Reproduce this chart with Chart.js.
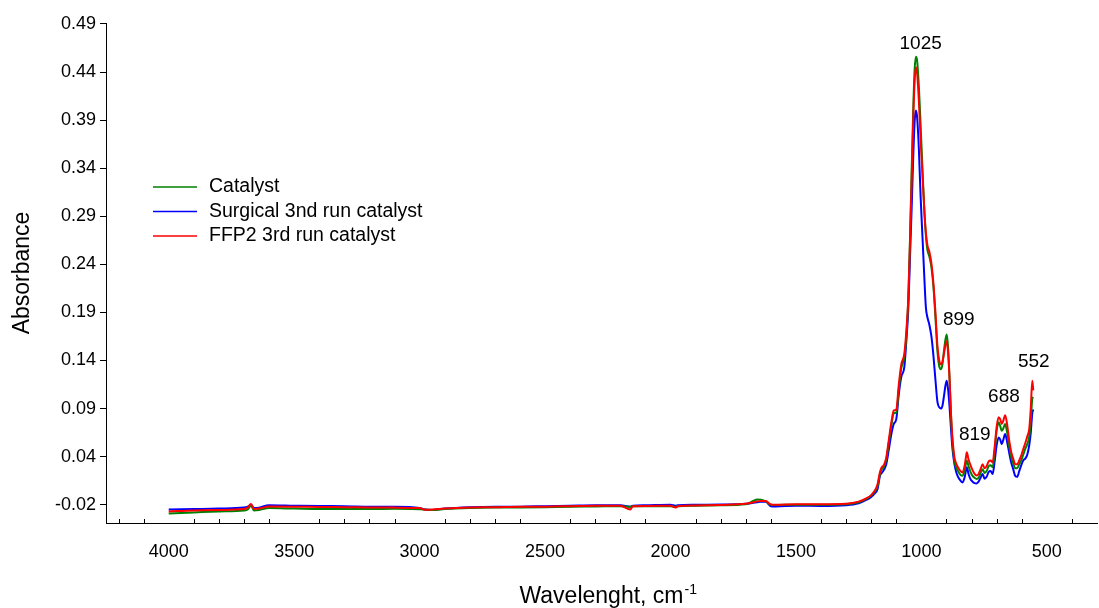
<!DOCTYPE html>
<html>
<head>
<meta charset="utf-8">
<script src="https://cdn.jsdelivr.net/npm/chart.js@4"></script>
<style>
  html, body { margin: 0; padding: 0; background: #fff; }
  canvas { display: block; }
</style>
</head>
<body>
<canvas id="myChart" width="1099" height="608"></canvas>
<script>
// wavenumber, cm-1 (descending like the plot)
const wavenumbers = [
  4000, 3900, 3800, 3700, 3685, 3672, 3660, 3640, 3600, 3500,
  3400, 3300, 3200, 3100, 3000, 2980, 2950, 2900, 2800, 2700,
  2600, 2500, 2400, 2300, 2200, 2160, 2150, 2100, 2000, 1980,
  1970, 1900, 1800, 1700, 1670, 1655, 1640, 1620, 1600, 1580,
  1500, 1400, 1300, 1250, 1220, 1200, 1185, 1175, 1165, 1158,
  1150, 1140, 1130, 1120, 1110, 1100, 1090, 1080, 1068, 1060,
  1052, 1045, 1038, 1032, 1027, 1022, 1017, 1010, 1003, 995,
  988, 982, 976, 968, 960, 952, 944, 936, 928, 922,
  916, 910, 904, 899, 894, 888, 882, 876, 868, 860,
  852, 844, 836, 828, 822, 819, 812, 804, 796, 788,
  780, 772, 764, 756, 748, 740, 732, 724, 716, 708,
  700, 692, 686, 680, 674, 666, 658, 650, 642, 634,
  626, 618, 610, 602, 594, 586, 578, 570, 564, 558,
  554
];

const catalyst = [
  -0.024, -0.023, -0.022, -0.021, -0.020, -0.016, -0.021, -0.0205, -0.0185, -0.019,
  -0.0195, -0.0195, -0.0195, -0.0193, -0.0198, -0.020, -0.0205, -0.0195, -0.0185, -0.018,
  -0.0178, -0.0175, -0.017, -0.0168, -0.0165, -0.017, -0.0165, -0.0165, -0.0165, -0.017,
  -0.0165, -0.016, -0.0155, -0.0145, -0.011, -0.0095, -0.0098, -0.0115, -0.015, -0.0152,
  -0.015, -0.015, -0.0145, -0.0125, -0.009, -0.0055, -0.001, 0.004, 0.017, 0.022,
  0.024, 0.032, 0.049, 0.067, 0.080, 0.081, 0.105, 0.127, 0.138, 0.160,
  0.200, 0.265, 0.340, 0.400, 0.437, 0.451, 0.447, 0.420, 0.380, 0.330,
  0.290, 0.265, 0.250, 0.243, 0.232, 0.212, 0.180, 0.145, 0.128, 0.126,
  0.131, 0.145, 0.157, 0.162, 0.150, 0.118, 0.078, 0.050, 0.030, 0.023,
  0.019, 0.016, 0.0152, 0.020, 0.028, 0.031, 0.025, 0.019, 0.015, 0.013,
  0.0118, 0.013, 0.018, 0.0218, 0.018, 0.020, 0.025, 0.026, 0.024, 0.040,
  0.062, 0.0707, 0.067, 0.062, 0.064, 0.069, 0.060, 0.046, 0.035, 0.028,
  0.023, 0.023, 0.027, 0.031, 0.037, 0.043, 0.048, 0.056, 0.072, 0.095,
  0.097
];

const surgical = [
  -0.020, -0.0195, -0.019, -0.018, -0.017, -0.015, -0.0185, -0.018, -0.0155, -0.016,
  -0.0164, -0.0165, -0.017, -0.017, -0.0185, -0.020, -0.0205, -0.019, -0.0175, -0.017,
  -0.017, -0.0165, -0.016, -0.0155, -0.0155, -0.017, -0.016, -0.0155, -0.015, -0.016,
  -0.0155, -0.015, -0.0148, -0.014, -0.013, -0.0125, -0.012, -0.012, -0.0165, -0.0168,
  -0.016, -0.0162, -0.0155, -0.0135, -0.010, -0.0068, -0.003, 0.001, 0.0152, 0.018,
  0.021, 0.027, 0.042, 0.058, 0.069, 0.074, 0.100, 0.118, 0.128, 0.155,
  0.190, 0.245, 0.300, 0.350, 0.383, 0.395, 0.388, 0.355, 0.305, 0.260,
  0.220, 0.190, 0.180, 0.172, 0.160, 0.140, 0.115, 0.092, 0.086, 0.085,
  0.088, 0.098, 0.109, 0.114, 0.106, 0.088, 0.064, 0.043, 0.027, 0.018,
  0.013, 0.010, 0.0082, 0.013, 0.021, 0.0239, 0.017, 0.0115, 0.009, 0.0075,
  0.0072, 0.009, 0.013, 0.017, 0.012, 0.014, 0.019, 0.020, 0.017, 0.030,
  0.047, 0.055, 0.053, 0.048, 0.052, 0.0586, 0.050, 0.039, 0.029, 0.022,
  0.015, 0.014, 0.020, 0.026, 0.031, 0.033, 0.037, 0.047, 0.060, 0.080,
  0.084
];

const ffp2 = [
  -0.022, -0.021, -0.0205, -0.0195, -0.018, -0.0143, -0.0195, -0.019, -0.0168, -0.017,
  -0.0174, -0.0175, -0.0178, -0.018, -0.0185, -0.0202, -0.020, -0.019, -0.0178, -0.0175,
  -0.017, -0.017, -0.0165, -0.016, -0.016, -0.0199, -0.0165, -0.0162, -0.016, -0.018,
  -0.0165, -0.0158, -0.0152, -0.014, -0.0125, -0.0115, -0.011, -0.0112, -0.0148, -0.015,
  -0.0145, -0.0145, -0.014, -0.0118, -0.0085, -0.005, 0.000, 0.006, 0.019, 0.024,
  0.026, 0.034, 0.052, 0.070, 0.083, 0.084, 0.110, 0.131, 0.142, 0.165,
  0.200, 0.262, 0.330, 0.390, 0.425, 0.440, 0.434, 0.405, 0.365, 0.325,
  0.290, 0.268, 0.255, 0.248, 0.236, 0.215, 0.185, 0.150, 0.134, 0.131,
  0.134, 0.142, 0.151, 0.155, 0.145, 0.118, 0.080, 0.054, 0.034, 0.027,
  0.023, 0.020, 0.0186, 0.025, 0.035, 0.0395, 0.032, 0.026, 0.021, 0.017,
  0.0155, 0.017, 0.022, 0.027, 0.023, 0.025, 0.030, 0.031, 0.029, 0.045,
  0.066, 0.076, 0.074, 0.069, 0.072, 0.078, 0.068, 0.052, 0.040, 0.033,
  0.027, 0.027, 0.031, 0.036, 0.043, 0.049, 0.056, 0.064, 0.085, 0.114,
  0.104
];

const seriesNames = ['Catalyst', 'Surgical 3nd run catalyst', 'FFP2 3rd run catalyst'];
const seriesColors = ['#008000', '#0000ff', '#ff0000'];

// y ticks sit at -0.015 + n*0.05 and are printed rounded
const yTickValues = [-0.015, 0.035, 0.085, 0.135, 0.185, 0.235, 0.285, 0.335, 0.385, 0.435, 0.485];
const yTickLabels = ['-0.02', '0.04', '0.09', '0.14', '0.19', '0.24', '0.29', '0.34', '0.39', '0.44', '0.49'];
const xTickLabels = [4000, 3500, 3000, 2500, 2000, 1500, 1000, 500];

// peak labels: text and where it sits (wavenumber, absorbance)
const peakText = ['1025', '899', '819', '688', '552'];
const peakX = [1003, 851, 787, 671, 552];
const peakY = [0.464, 0.177, 0.058, 0.097, 0.134];

const FONT = "'Liberation Sans', Arial, sans-serif";

function toPoints(values) {
  return wavenumbers.map((w, i) => ({ x: w, y: values[i] }));
}

const extras = {
  id: 'extras',
  afterDraw(chart) {
    const ctx = chart.ctx;
    const xs = chart.scales.x;
    const ys = chart.scales.y;
    const area = chart.chartArea;
    ctx.save();

    // minor ticks on the x axis point into the plot
    ctx.strokeStyle = '#000';
    ctx.lineWidth = 1;
    xs.ticks.forEach(t => {
      if (xTickLabels.includes(t.value)) return;
      const px = Math.round(xs.getPixelForValue(t.value)) + 0.5;
      ctx.beginPath();
      ctx.moveTo(px, area.bottom);
      ctx.lineTo(px, area.bottom - 4);
      ctx.stroke();
    });

    // legend
    ctx.font = '19.5px ' + FONT;
    ctx.textBaseline = 'middle';
    ctx.textAlign = 'left';
    chart.data.datasets.forEach((ds, i) => {
      const y = 187 + i * 24.5;
      ctx.strokeStyle = ds.borderColor;
      ctx.lineWidth = 1.5;
      ctx.beginPath();
      ctx.moveTo(153, y);
      ctx.lineTo(197, y);
      ctx.stroke();
      ctx.fillStyle = '#000';
      ctx.fillText(ds.label, 209, y);
    });

    // peak labels
    ctx.font = '19px ' + FONT;
    ctx.textAlign = 'center';
    peakText.forEach((txt, i) => {
      ctx.fillText(txt, xs.getPixelForValue(peakX[i]), ys.getPixelForValue(peakY[i]));
    });

    // x title with superscript
    ctx.font = '23px ' + FONT;
    ctx.textBaseline = 'alphabetic';
    ctx.textAlign = 'left';
    const main = 'Wavelenght, cm';
    const w = ctx.measureText(main).width;
    const cx = (area.left + area.right) / 2;
    const x0 = cx - w / 2;
    ctx.fillText(main, x0, 603);
    ctx.font = '14px ' + FONT;
    ctx.fillText('-1', x0 + w + 1, 594);

    ctx.restore();
  }
};

const ctx = document.getElementById('myChart').getContext('2d');
const myChart = new Chart(ctx, {
  type: 'line',
  data: {
    datasets: [
      { label: seriesNames[0], data: toPoints(catalyst), borderColor: seriesColors[0], order: 2 },
      { label: seriesNames[1], data: toPoints(surgical), borderColor: seriesColors[1], order: 3 },
      { label: seriesNames[2], data: toPoints(ffp2), borderColor: seriesColors[2], order: 1 }
    ]
  },
  options: {
    responsive: false,
    animation: false,
    layout: { padding: { top: 23, right: 2, left: 0, bottom: 0 } },
    elements: {
      point: { radius: 0 },
      line: { borderWidth: 2, cubicInterpolationMode: 'monotone', fill: false }
    },
    plugins: {
      legend: { display: false },
      tooltip: { enabled: false }
    },
    scales: {
      x: {
        type: 'linear',
        reverse: true,
        min: 300,
        max: 4250,
        afterFit: s => { s.height = 85; },
        afterBuildTicks: s => {
          const t = [];
          for (let v = 4200; v >= 400; v -= 100) t.push({ value: v });
          s.ticks = t;
        },
        ticks: {
          autoSkip: false,
          maxRotation: 0,
          padding: 18,
          color: '#000',
          font: { family: FONT, size: 18 },
          callback: v => xTickLabels.includes(v) ? String(v) : ''
        },
        grid: { drawOnChartArea: false, drawTicks: false },
        border: { display: true, color: '#000', width: 1 }
      },
      y: {
        min: -0.034,
        max: 0.486,
        afterFit: s => { s.width = 106; },
        afterBuildTicks: s => { s.ticks = yTickValues.map(v => ({ value: v })); },
        ticks: {
          padding: 4,
          color: '#000',
          font: { family: FONT, size: 18 },
          callback: (v, i) => yTickLabels[i]
        },
        grid: { drawOnChartArea: false, drawTicks: true, tickLength: 6, tickColor: '#000' },
        border: { display: true, color: '#000', width: 1 },
        title: {
          display: true,
          text: 'Absorbance',
          color: '#000',
          font: { family: FONT, size: 23 },
          padding: { top: 9, bottom: 0 }
        }
      }
    }
  },
  plugins: [extras]
});
</script>
</body>
</html>
